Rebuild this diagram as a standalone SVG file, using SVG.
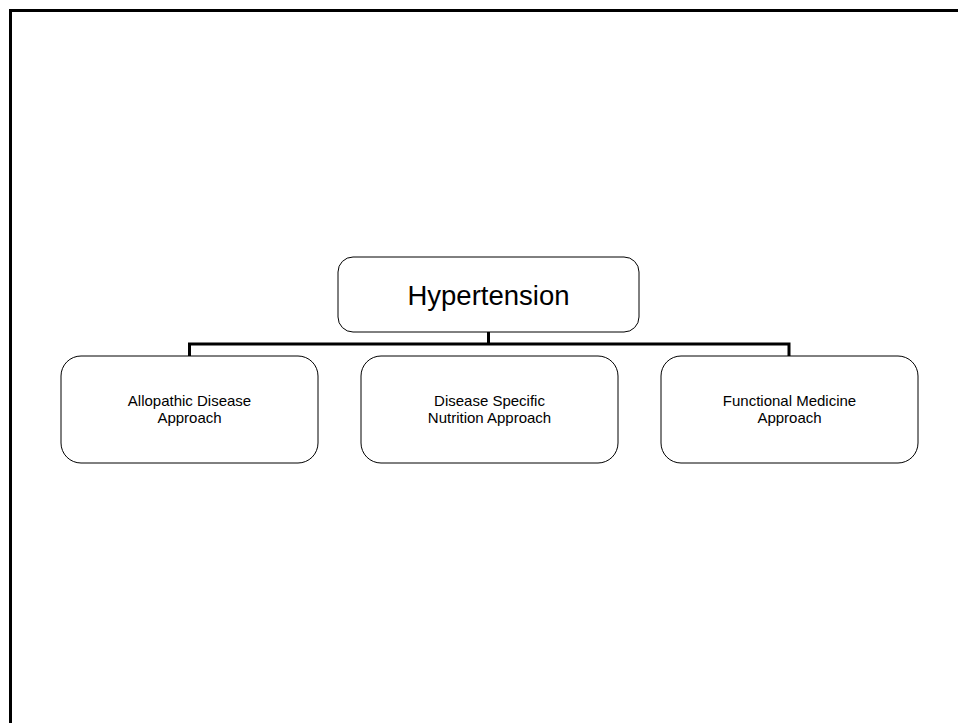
<svg xmlns="http://www.w3.org/2000/svg" width="958" height="723" viewBox="0 0 958 723">
<style>
.box{fill:#fff;stroke:#000;stroke-width:1}
.conn{fill:none;stroke:#000;stroke-width:3}
.t{font-family:"Liberation Sans",Arial,sans-serif;fill:#000;text-anchor:middle}
.s{font-size:15px}
</style>
<rect width="958" height="723" fill="#fff"/>
<path d="M10.5 723 V10.5 H958" fill="none" stroke="#000" stroke-width="3"/>
<g id="connectors">
<path class="conn" d="M488.5 332 V344 M189.5 356 V344 H789 V356"/>
</g>
<g id="hypertension">
<rect class="box" x="338" y="257" width="301" height="75" rx="15"/>
<text class="t" x="488.5" y="304.5" font-size="27.5">Hypertension</text>
</g>
<g id="allopathic">
<rect class="box" x="61" y="356" width="257" height="107" rx="20"/>
<text class="t s" x="189.5" y="405.5">Allopathic Disease</text>
<text class="t s" x="189.5" y="423">Approach</text>
</g>
<g id="nutrition">
<rect class="box" x="361" y="356" width="257" height="107" rx="20"/>
<text class="t s" x="489.5" y="405.5">Disease Specific</text>
<text class="t s" x="489.5" y="423">Nutrition Approach</text>
</g>
<g id="functional">
<rect class="box" x="661" y="356" width="257" height="107" rx="20"/>
<text class="t s" x="789.5" y="405.5">Functional Medicine</text>
<text class="t s" x="789.5" y="423">Approach</text>
</g>
</svg>
